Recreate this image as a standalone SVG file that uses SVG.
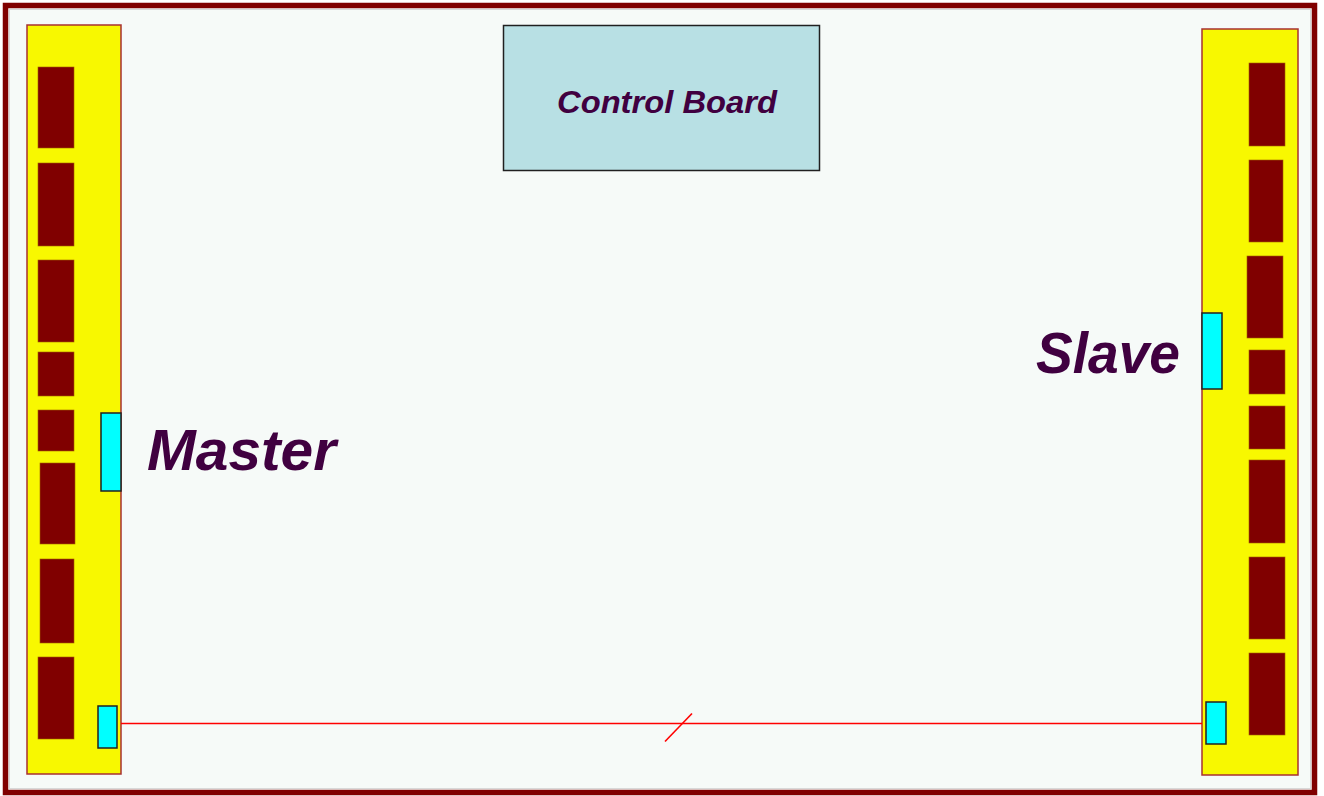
<svg xmlns="http://www.w3.org/2000/svg" width="1324" height="796" viewBox="0 0 1324 796">
  <style>
    .panel { fill: #f8f800; stroke: #a83030; stroke-width: 1.5; }
    .slot { fill: #800000; stroke: #a06000; stroke-width: 0.6; }
    .port { fill: #00ffff; stroke: #202020; stroke-width: 1.5; }
    .label { font-family: "Liberation Sans", Arial, sans-serif; font-weight: bold; font-style: italic; fill: #400040; }
    .wire { stroke: #ff0000; stroke-width: 1.6; fill: none; }
  </style>
  <rect x="0" y="0" width="1324" height="796" fill="#ffffff"/>
  <g id="frame">
    <rect x="5.5" y="5.5" width="1309" height="787" fill="#f6faf8" stroke="#800000" stroke-width="5.5"/>
    <rect x="9.5" y="9.5" width="1301" height="779" fill="none" stroke="#d8d8d8" stroke-width="1"/>
  </g>
  <g id="master">
    <rect class="panel" x="27" y="25" width="94" height="749"/>
    <rect class="slot" x="38" y="67" width="36" height="81"/>
    <rect class="slot" x="38" y="163" width="36" height="83"/>
    <rect class="slot" x="38" y="260" width="36" height="82"/>
    <rect class="slot" x="38" y="352" width="36" height="44"/>
    <rect class="slot" x="38" y="410" width="36" height="41"/>
    <rect class="slot" x="40" y="463" width="35" height="81"/>
    <rect class="slot" x="40" y="559" width="34" height="84"/>
    <rect class="slot" x="38" y="657" width="36" height="82"/>
    <rect class="port" x="101" y="413" width="20" height="78"/>
    <rect class="port" x="98" y="706" width="19" height="42"/>
    <text class="label" x="147" y="470" font-size="58" textLength="189" lengthAdjust="spacingAndGlyphs">Master</text>
  </g>
  <g id="slave">
    <rect class="panel" x="1202" y="29" width="96" height="746"/>
    <rect class="slot" x="1249" y="63" width="36" height="83"/>
    <rect class="slot" x="1249" y="160" width="34" height="82"/>
    <rect class="slot" x="1247" y="256" width="36" height="82"/>
    <rect class="slot" x="1249" y="350" width="36" height="44"/>
    <rect class="slot" x="1249" y="406" width="36" height="43"/>
    <rect class="slot" x="1249" y="460" width="36" height="83"/>
    <rect class="slot" x="1249" y="557" width="36" height="82"/>
    <rect class="slot" x="1249" y="653" width="36" height="82"/>
    <rect class="port" x="1202" y="313" width="20" height="76"/>
    <rect class="port" x="1206" y="702" width="20" height="42"/>
    <text class="label" x="1036" y="373" font-size="58" textLength="144" lengthAdjust="spacingAndGlyphs">Slave</text>
  </g>
  <g id="control-board">
    <rect x="503.5" y="25.5" width="316" height="145" fill="#b8e0e4" stroke="#202020" stroke-width="1.5"/>
    <text class="label" x="557" y="113" font-size="32" textLength="220" lengthAdjust="spacingAndGlyphs">Control Board</text>
  </g>
  <g id="connectors">
    <line class="wire" x1="121" y1="723.5" x2="1202" y2="723.5"/>
    <line class="wire" x1="665" y1="741.5" x2="692" y2="713.5" stroke-width="2"/>
  </g>
</svg>
